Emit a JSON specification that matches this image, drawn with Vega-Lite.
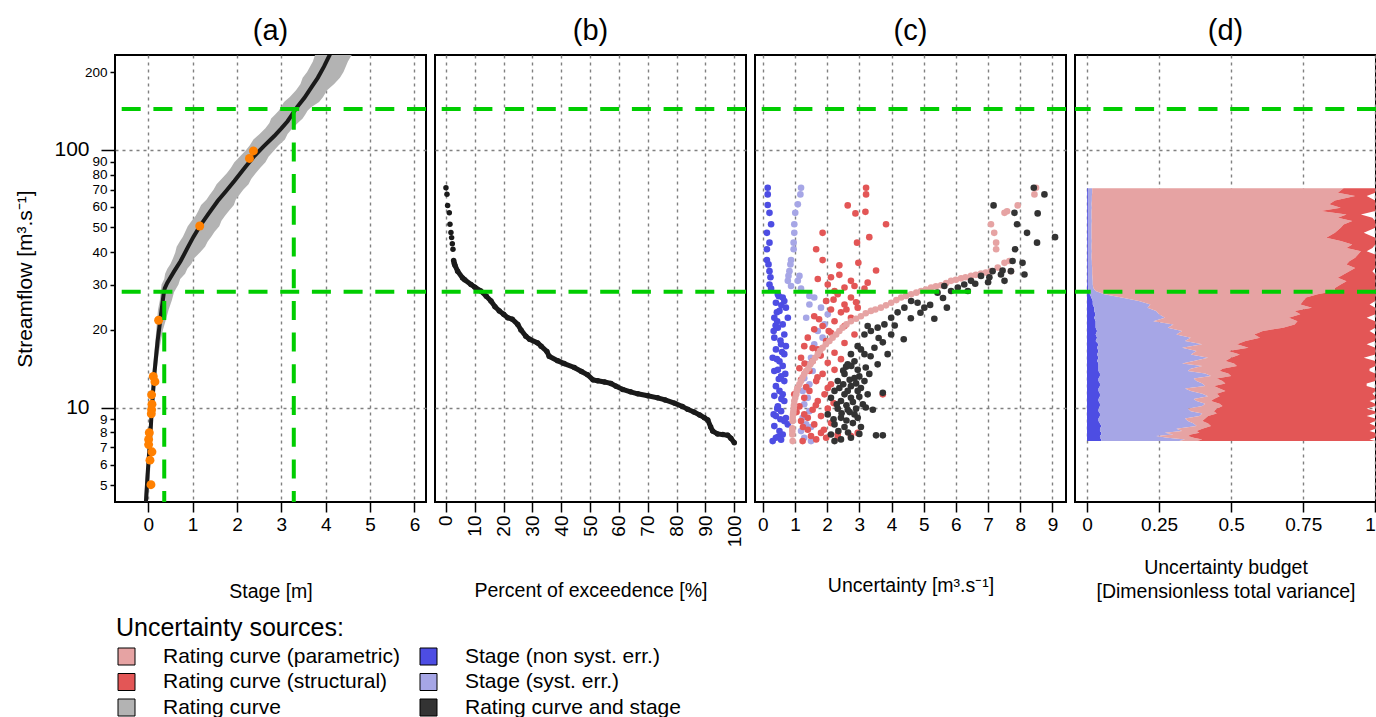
{
"$schema": "https://vega.github.io/schema/vega-lite/v6.json",
"padding": {"left": 13, "top": 16, "right": 0, "bottom": 0},
"config": {
  "font": "Liberation Sans",
  "view": {"stroke": "black", "strokeWidth": 2},
  "axis": {"domain": false, "tickColor": "black", "tickWidth": 1.5, "tickSize": 10, "labelColor": "black", "labelFontSize": 19, "labelPadding": 3, "titleColor": "black", "titleFontSize": 19.5, "titleFontWeight": "normal", "gridColor": "#808080", "gridDash": [3, 4], "gridWidth": 1.4, "gridOpacity": 1, "zindex": 1, "labelOverlap": false},
  "title": {"fontSize": 29, "fontWeight": "normal", "color": "black", "offset": 9}
},
"datasets": {
  "band": [
    {"q":4.0,"lo":-0.11,"hi":-0.02},{"q":5,"lo":-0.07,"hi":0.02},{"q":6,"lo":-0.04,"hi":0.05},{"q":7,"lo":0.0,"hi":0.07},{"q":8.5,"lo":0.03,"hi":0.10},{"q":10,"lo":0.05,"hi":0.12},{"q":12,"lo":0.08,"hi":0.16},{"q":14,"lo":0.10,"hi":0.19},{"q":16,"lo":0.13,"hi":0.23},{"q":18,"lo":0.16,"hi":0.28},{"q":20,"lo":0.18,"hi":0.33},{"q":22,"lo":0.20,"hi":0.40},{"q":24,"lo":0.22,"hi":0.46},{"q":26,"lo":0.26,"hi":0.53},{"q":28,"lo":0.28,"hi":0.58},{"q":30,"lo":0.30,"hi":0.68},{"q":31.5,"lo":0.36,"hi":0.72},{"q":33,"lo":0.38,"hi":0.83},{"q":34.5,"lo":0.43,"hi":0.88},{"q":36,"lo":0.50,"hi":0.97},{"q":38,"lo":0.56,"hi":1.04},{"q":40,"lo":0.61,"hi":1.17},{"q":42,"lo":0.64,"hi":1.28},{"q":44,"lo":0.71,"hi":1.34},{"q":46,"lo":0.78,"hi":1.42},{"q":48,"lo":0.83,"hi":1.49},{"q":50.5,"lo":0.89,"hi":1.60},{"q":53,"lo":0.98,"hi":1.65},{"q":55.5,"lo":1.07,"hi":1.73},{"q":58,"lo":1.13,"hi":1.82},{"q":61,"lo":1.19,"hi":1.93},{"q":64,"lo":1.31,"hi":1.97},{"q":67,"lo":1.39,"hi":2.06},{"q":70,"lo":1.47,"hi":2.14},{"q":73.5,"lo":1.54,"hi":2.26},{"q":77,"lo":1.65,"hi":2.32},{"q":81,"lo":1.77,"hi":2.42},{"q":85,"lo":1.86,"hi":2.52},{"q":89.5,"lo":1.94,"hi":2.64},{"q":94,"lo":2.06,"hi":2.71},{"q":99,"lo":2.19,"hi":2.83},{"q":104,"lo":2.29,"hi":2.94},{"q":109.5,"lo":2.37,"hi":3.08},{"q":115,"lo":2.51,"hi":3.14},{"q":121,"lo":2.64,"hi":3.25},{"q":127,"lo":2.73,"hi":3.37},{"q":132,"lo":2.77,"hi":3.48},{"q":137,"lo":2.86,"hi":3.54},{"q":141.5,"lo":2.94,"hi":3.59},{"q":146,"lo":2.99,"hi":3.67},{"q":153,"lo":3.06,"hi":3.85},{"q":160,"lo":3.19,"hi":3.94},{"q":170,"lo":3.33,"hi":4.03},{"q":180,"lo":3.43,"hi":4.19},{"q":190,"lo":3.48,"hi":4.32},{"q":200,"lo":3.58,"hi":4.40},{"q":220,"lo":3.71,"hi":4.50},{"q":245,"lo":3.80,"hi":4.66}
  ],
  "curve": [
    {"q":4.0,"h":-0.065},{"q":4.3,"h":-0.053},{"q":5.5,"h":-0.015},{"q":7.4,"h":0.038},{"q":10,"h":0.083},{"q":13.4,"h":0.135},{"q":18.1,"h":0.21},{"q":22.9,"h":0.286},{"q":27.5,"h":0.346},{"q":29,"h":0.37},{"q":30.5,"h":0.43},{"q":33.8,"h":0.586},{"q":37,"h":0.73},{"q":41.7,"h":0.887},{"q":46,"h":1.02},{"q":50.6,"h":1.165},{"q":56.5,"h":1.36},{"q":63.2,"h":1.564},{"q":69,"h":1.75},{"q":75.6,"h":1.94},{"q":85,"h":2.17},{"q":94.5,"h":2.39},{"q":103,"h":2.6},{"q":113,"h":2.84},{"q":121,"h":3.0},{"q":129,"h":3.14},{"q":136,"h":3.23},{"q":141,"h":3.29},{"q":146,"h":3.35},{"q":159,"h":3.52},{"q":175,"h":3.68},{"q":190,"h":3.82},{"q":210,"h":3.96},{"q":245,"h":4.15}
  ],
  "gaugings": [
    {"h":2.37,"q":98.9},{"h":2.28,"q":92.5},{"h":1.16,"q":50.6},{"h":0.233,"q":21.8},{"h":0.113,"q":13.2},{"h":0.15,"q":12.6},{"h":0.075,"q":11.2},{"h":0.083,"q":10.3},{"h":0.075,"q":9.8},{"h":0.068,"q":9.45},{"h":0.023,"q":7.98},{"h":0.008,"q":7.52},{"h":0.008,"q":7.18},{"h":0.083,"q":6.73},{"h":0.038,"q":6.25},{"h":0.06,"q":5.02}
  ],
  "thr": [{"q":28.1,"h":0.36,"qb":4.0},{"q":143.9,"h":3.28,"qb":4.0}],
  "pe": [
    {"p":0,"q":71.2},{"p":0.35,"q":67.2},{"p":0.58,"q":60.8},{"p":1.16,"q":57.0},{"p":1.39,"q":51.4},{"p":1.73,"q":47.7},{"p":1.96,"q":45.6},{"p":2.2,"q":43.2},{"p":2.43,"q":41.1},{"p":2.66,"q":37.2},{"p":2.9,"q":36.2},{"p":3.12,"q":35.6},{"p":4.05,"q":33.8},{"p":5.78,"q":31.8},{"p":6.5,"q":31.3},{"p":8.67,"q":30.0},{"p":10,"q":29.3},{"p":12.1,"q":28.3},{"p":14,"q":27.0},{"p":15.6,"q":25.9},{"p":17,"q":24.6},{"p":18.5,"q":23.7},{"p":20,"q":23.0},{"p":21.4,"q":22.3},{"p":23,"q":22.0},{"p":24.9,"q":21.0},{"p":26,"q":20.0},{"p":27.7,"q":18.9},{"p":29,"q":18.4},{"p":31.8,"q":17.8},{"p":33,"q":17.3},{"p":35,"q":16.5},{"p":35.8,"q":15.8},{"p":38.7,"q":15.2},{"p":41,"q":14.8},{"p":44.5,"q":14.3},{"p":47,"q":13.8},{"p":49.1,"q":13.4},{"p":51,"q":12.8},{"p":52.6,"q":12.7},{"p":55,"q":12.55},{"p":57.2,"q":12.4},{"p":59,"q":12.1},{"p":61.3,"q":11.75},{"p":64,"q":11.5},{"p":66.5,"q":11.3},{"p":70,"q":11.1},{"p":73.4,"q":10.9},{"p":76,"q":10.7},{"p":79.2,"q":10.4},{"p":82,"q":10.1},{"p":83.8,"q":9.84},{"p":86,"q":9.6},{"p":88,"q":9.35},{"p":89.6,"q":9.13},{"p":90.8,"q":8.95},{"p":91.8,"q":8.4},{"p":92.5,"q":8.1},{"p":94.2,"q":7.9},{"p":96,"q":7.85},{"p":97.7,"q":7.81},{"p":98.8,"q":7.6},{"p":100,"q":7.3}
  ],
  "unc": [
    {"s":"ns","u":0.155,"q":71.2},{"s":"ns","u":0.155,"q":67.1},{"s":"ns","u":0.155,"q":61.0},{"s":"ns","u":0.21,"q":56.9},{"s":"ns","u":0.26,"q":51.4},{"s":"ns","u":0.13,"q":47.6},{"s":"ns","u":0.21,"q":43.6},{"s":"ns","u":0.13,"q":41.1},{"s":"ns","u":0.13,"q":37.3},{"s":"ns","u":0.18,"q":35.9},{"s":"ns","u":0.21,"q":33.8},{"s":"ns","u":0.24,"q":32.0},{"s":"ns","u":0.21,"q":30.0},{"s":"ns","u":0.26,"q":28.9},
    {"s":"ns","u":0.47,"q":27.5},{"s":"ns","u":0.5,"q":27.0},{"s":"ns","u":0.62,"q":26.7},{"s":"ns","u":0.67,"q":25.9},{"s":"ns","u":0.41,"q":25.5},{"s":"ns","u":0.58,"q":24.9},{"s":"ns","u":0.72,"q":24.4},{"s":"ns","u":0.52,"q":23.7},{"s":"ns","u":0.44,"q":23.4},{"s":"ns","u":0.78,"q":22.3},{"s":"ns","u":0.36,"q":22.3},{"s":"ns","u":0.45,"q":21.6},{"s":"ns","u":0.62,"q":21.0},{"s":"ns","u":0.4,"q":20.8},{"s":"ns","u":0.47,"q":20.4},{"s":"ns","u":0.34,"q":19.8},{"s":"ns","u":0.67,"q":19.2},{"s":"ns","u":0.36,"q":18.66},{"s":"ns","u":0.55,"q":18.2},{"s":"ns","u":0.57,"q":17.6},{"s":"ns","u":0.72,"q":17.3},{"s":"ns","u":0.41,"q":16.8},{"s":"ns","u":0.6,"q":16.4},{"s":"ns","u":0.67,"q":16.1},{"s":"ns","u":0.31,"q":15.6},{"s":"ns","u":0.44,"q":15.4},{"s":"ns","u":0.52,"q":15.1},{"s":"ns","u":0.62,"q":14.5},{"s":"ns","u":0.47,"q":14.0},{"s":"ns","u":0.36,"q":13.85},{"s":"ns","u":0.7,"q":13.5},{"s":"ns","u":0.57,"q":13.2},{"s":"ns","u":0.5,"q":12.9},{"s":"ns","u":0.67,"q":12.66},{"s":"ns","u":0.41,"q":12.1},{"s":"ns","u":0.52,"q":11.6},{"s":"ns","u":0.62,"q":11.25},{"s":"ns","u":0.36,"q":11.1},{"s":"ns","u":0.58,"q":10.8},{"s":"ns","u":0.67,"q":10.6},{"s":"ns","u":0.47,"q":10.1},{"s":"ns","u":0.45,"q":9.9},{"s":"ns","u":0.57,"q":9.68},{"s":"ns","u":0.34,"q":9.4},{"s":"ns","u":0.41,"q":9.26},{"s":"ns","u":0.72,"q":9.1},{"s":"ns","u":0.55,"q":9.0},{"s":"ns","u":0.67,"q":8.86},{"s":"ns","u":0.78,"q":8.6},{"s":"ns","u":0.36,"q":8.47},{"s":"ns","u":0.52,"q":8.1},{"s":"ns","u":0.62,"q":7.86},{"s":"ns","u":0.48,"q":7.7},{"s":"ns","u":0.41,"q":7.63},{"s":"ns","u":0.57,"q":7.5},{"s":"ns","u":0.31,"q":7.41},
    {"s":"sy","u":1.19,"q":71.2},{"s":"sy","u":1.17,"q":67.1},{"s":"sy","u":1.09,"q":61.4},{"s":"sy","u":1.01,"q":56.9},{"s":"sy","u":0.98,"q":51.4},{"s":"sy","u":0.98,"q":47.6},{"s":"sy","u":0.96,"q":43.6},{"s":"sy","u":0.96,"q":41.1},{"s":"sy","u":0.88,"q":37.3},{"s":"sy","u":0.86,"q":35.9},{"s":"sy","u":0.83,"q":33.8},{"s":"sy","u":0.80,"q":32.4},{"s":"sy","u":1.14,"q":32.4},{"s":"sy","u":0.78,"q":31.0},{"s":"sy","u":1.09,"q":31.0},{"s":"sy","u":0.88,"q":29.6},{"s":"sy","u":1.19,"q":28.9},
    {"s":"sy","u":1.45,"q":27.1},{"s":"sy","u":1.60,"q":26.7},{"s":"sy","u":1.97,"q":25.9},{"s":"sy","u":1.45,"q":25.1},{"s":"sy","u":1.81,"q":24.4},{"s":"sy","u":2.02,"q":23.0},{"s":"sy","u":1.35,"q":22.3},{"s":"sy","u":1.92,"q":21.0},{"s":"sy","u":1.71,"q":19.8},{"s":"sy","u":1.86,"q":18.66},{"s":"sy","u":1.60,"q":17.6},{"s":"sy","u":1.76,"q":16.6},{"s":"sy","u":1.50,"q":15.6},{"s":"sy","u":1.40,"q":14.7},{"s":"sy","u":1.55,"q":13.85},{"s":"sy","u":1.29,"q":13.0},{"s":"sy","u":1.45,"q":12.3},{"s":"sy","u":1.24,"q":11.6},{"s":"sy","u":1.40,"q":10.9},{"s":"sy","u":1.29,"q":10.3},{"s":"sy","u":1.45,"q":9.68},{"s":"sy","u":1.24,"q":9.12},{"s":"sy","u":1.35,"q":8.6},{"s":"sy","u":1.50,"q":8.4},{"s":"sy","u":1.19,"q":8.1},{"s":"sy","u":1.29,"q":7.63},{"s":"sy","u":1.50,"q":7.41},
    {"s":"st","u":3.21,"q":71.2},{"s":"st","u":3.21,"q":67.1},{"s":"st","u":2.64,"q":60.8},{"s":"st","u":2.88,"q":56.6},{"s":"st","u":3.19,"q":57.4},{"s":"st","u":3.83,"q":51.4},{"s":"st","u":1.86,"q":47.6},{"s":"st","u":3.31,"q":45.8},{"s":"st","u":2.93,"q":43.6},{"s":"st","u":1.66,"q":41.1},{"s":"st","u":1.86,"q":37.3},{"s":"st","u":2.38,"q":35.6},{"s":"st","u":2.97,"q":36.4},{"s":"st","u":3.52,"q":34.0},{"s":"st","u":2.12,"q":32.0},{"s":"st","u":2.38,"q":32.7},{"s":"st","u":2.74,"q":31.0},{"s":"st","u":3.26,"q":30.5},{"s":"st","u":1.71,"q":31.5},{"s":"st","u":2.02,"q":30.0},{"s":"st","u":2.54,"q":29.2},{"s":"st","u":2.85,"q":29.6},{"s":"st","u":2.23,"q":28.3},{"s":"st","u":3.16,"q":28.9},
    {"s":"st","u":2.33,"q":27.5},{"s":"st","u":2.74,"q":26.7},{"s":"st","u":2.2,"q":26.2},{"s":"st","u":1.97,"q":25.9},{"s":"st","u":2.9,"q":25.6},{"s":"st","u":2.54,"q":25.1},{"s":"st","u":2.12,"q":24.0},{"s":"st","u":2.6,"q":24.0},{"s":"st","u":2.95,"q":24.4},{"s":"st","u":2.43,"q":23.4},{"s":"st","u":1.60,"q":22.6},{"s":"st","u":2.74,"q":22.3},{"s":"st","u":1.75,"q":22.0},{"s":"st","u":2.23,"q":21.6},{"s":"st","u":1.86,"q":20.7},{"s":"st","u":2.54,"q":20.7},{"s":"st","u":1.60,"q":20.1},{"s":"st","u":2.05,"q":19.8},{"s":"st","u":2.12,"q":19.5},{"s":"st","u":2.85,"q":19.2},{"s":"st","u":1.40,"q":18.66},{"s":"st","u":1.97,"q":18.1},{"s":"st","u":2.54,"q":17.8},{"s":"st","u":1.29,"q":17.3},{"s":"st","u":1.55,"q":17.0},{"s":"st","u":1.71,"q":16.8},{"s":"st","u":2.23,"q":16.3},{"s":"st","u":1.8,"q":15.9},{"s":"st","u":1.19,"q":15.6},{"s":"st","u":2.43,"q":15.4},{"s":"st","u":1.55,"q":15.1},{"s":"st","u":2.02,"q":14.9},{"s":"st","u":1.3,"q":14.8},{"s":"st","u":1.14,"q":14.2},{"s":"st","u":2.23,"q":14.0},{"s":"st","u":1.45,"q":13.85},{"s":"st","u":1.86,"q":13.5},{"s":"st","u":1.7,"q":13.1},{"s":"st","u":1.19,"q":12.8},{"s":"st","u":1.66,"q":12.66},{"s":"st","u":2.12,"q":12.3},{"s":"st","u":1.35,"q":12.0},{"s":"st","u":1.09,"q":11.9},{"s":"st","u":2.02,"q":11.9},{"s":"st","u":1.45,"q":11.6},{"s":"st","u":1.92,"q":11.25},{"s":"st","u":0.98,"q":11.25},{"s":"st","u":3.73,"q":11.25},{"s":"st","u":1.29,"q":10.9},{"s":"st","u":1.71,"q":10.6},{"s":"st","u":2.2,"q":10.4},{"s":"st","u":1.65,"q":10.2},{"s":"st","u":1.14,"q":10.1},{"s":"st","u":2.02,"q":9.9},{"s":"st","u":1.55,"q":9.8},{"s":"st","u":1.05,"q":9.6},{"s":"st","u":1.29,"q":9.4},{"s":"st","u":1.81,"q":9.26},{"s":"st","u":1.40,"q":9.12},{"s":"st","u":1.19,"q":8.86},{"s":"st","u":2.12,"q":8.7},{"s":"st","u":1.60,"q":8.6},{"s":"st","u":1.25,"q":8.4},{"s":"st","u":1.40,"q":8.2},{"s":"st","u":1.9,"q":8.2},{"s":"st","u":1.81,"q":7.97},{"s":"st","u":2.95,"q":7.97},{"s":"st","u":2.33,"q":7.86},{"s":"st","u":1.50,"q":7.75},{"s":"st","u":2.74,"q":7.75},{"s":"st","u":1.97,"q":7.63},{"s":"st","u":2.33,"q":7.63},{"s":"st","u":1.66,"q":7.52},{"s":"st","u":1.24,"q":7.41},
    {"s":"pa","u":0.93,"q":7.41},{"s":"pa","u":0.92,"q":7.86},{"s":"pa","u":0.92,"q":8.1},{"s":"pa","u":0.92,"q":8.3},{"s":"pa","u":0.93,"q":8.86},{"s":"pa","u":0.93,"q":9.1},{"s":"pa","u":0.94,"q":9.4},{"s":"pa","u":0.95,"q":9.6},{"s":"pa","u":0.96,"q":9.9},{"s":"pa","u":0.97,"q":10.2},{"s":"pa","u":0.98,"q":10.6},{"s":"pa","u":1.01,"q":10.9},{"s":"pa","u":1.04,"q":11.25},{"s":"pa","u":1.06,"q":11.6},{"s":"pa","u":1.09,"q":11.9},{"s":"pa","u":1.14,"q":12.3},{"s":"pa","u":1.19,"q":12.66},{"s":"pa","u":1.24,"q":13.1},{"s":"pa","u":1.29,"q":13.5},{"s":"pa","u":1.35,"q":13.85},{"s":"pa","u":1.42,"q":14.2},{"s":"pa","u":1.48,"q":14.7},{"s":"pa","u":1.55,"q":15.1},{"s":"pa","u":1.63,"q":15.6},{"s":"pa","u":1.71,"q":16.1},{"s":"pa","u":1.78,"q":16.6},{"s":"pa","u":1.86,"q":17.06},{"s":"pa","u":1.96,"q":17.6},{"s":"pa","u":2.07,"q":18.1},{"s":"pa","u":2.17,"q":18.66},{"s":"pa","u":2.28,"q":19.2},{"s":"pa","u":2.38,"q":19.8},{"s":"pa","u":2.48,"q":20.4},{"s":"pa","u":2.6,"q":21.0},{"s":"pa","u":2.74,"q":21.6},{"s":"pa","u":2.9,"q":22.1},{"s":"pa","u":3.05,"q":22.6},{"s":"pa","u":3.2,"q":23.2},{"s":"pa","u":3.36,"q":23.7},{"s":"pa","u":3.5,"q":24.0},{"s":"pa","u":3.67,"q":24.4},{"s":"pa","u":3.83,"q":24.9},{"s":"pa","u":3.99,"q":25.5},{"s":"pa","u":4.15,"q":26.1},{"s":"pa","u":4.30,"q":26.7},{"s":"pa","u":4.45,"q":27.1},{"s":"pa","u":4.61,"q":27.5},{"s":"pa","u":4.77,"q":27.9},{"s":"pa","u":4.92,"q":28.3},{"s":"pa","u":5.07,"q":28.7},{"s":"pa","u":5.23,"q":29.2},{"s":"pa","u":5.38,"q":29.5},{"s":"pa","u":5.54,"q":29.8},{"s":"pa","u":5.7,"q":30.4},{"s":"pa","u":5.85,"q":31.0},{"s":"pa","u":6.0,"q":31.3},{"s":"pa","u":6.16,"q":31.7},{"s":"pa","u":6.3,"q":32.0},{"s":"pa","u":6.47,"q":32.4},{"s":"pa","u":6.62,"q":32.7},{"s":"pa","u":6.78,"q":33.1},{"s":"pa","u":6.93,"q":33.4},{"s":"pa","u":7.09,"q":33.8},{"s":"pa","u":7.30,"q":34.9},{"s":"pa","u":7.51,"q":36.4},{"s":"pa","u":7.66,"q":37.0},{"s":"pa","u":7.71,"q":33.8},{"s":"pa","u":7.25,"q":41.1},{"s":"pa","u":7.25,"q":43.6},{"s":"pa","u":7.19,"q":47.6},{"s":"pa","u":7.09,"q":51.4},{"s":"pa","u":7.51,"q":56.9},{"s":"pa","u":7.59,"q":57.7},{"s":"pa","u":7.92,"q":60.8},{"s":"pa","u":8.44,"q":67.1},{"s":"pa","u":8.49,"q":71.2},
    {"s":"rs","u":8.42,"q":71.2},{"s":"rs","u":8.75,"q":67.1},{"s":"rs","u":7.17,"q":60.8},{"s":"rs","u":7.82,"q":56.9},{"s":"rs","u":8.54,"q":56.6},{"s":"rs","u":7.90,"q":51.4},{"s":"rs","u":8.21,"q":47.6},{"s":"rs","u":9.08,"q":45.8},{"s":"rs","u":8.52,"q":43.6},{"s":"rs","u":7.84,"q":41.1},{"s":"rs","u":7.76,"q":37.0},{"s":"rs","u":8.07,"q":36.4},{"s":"rs","u":7.71,"q":33.8},{"s":"rs","u":8.13,"q":32.8},{"s":"rs","u":7.45,"q":34.0},{"s":"rs","u":7.14,"q":33.8},{"s":"rs","u":7.4,"q":32.8},{"s":"rs","u":7.51,"q":31.0},{"s":"rs","u":7.04,"q":32.0},{"s":"rs","u":6.78,"q":32.4},{"s":"rs","u":7.0,"q":30.6},{"s":"rs","u":6.6,"q":30.2},{"s":"rs","u":6.47,"q":31.0},{"s":"rs","u":6.26,"q":30.0},{"s":"rs","u":6.06,"q":29.2},{"s":"rs","u":5.85,"q":28.3},{"s":"rs","u":6.37,"q":28.3},{"s":"rs","u":5.64,"q":29.6},{"s":"rs","u":5.43,"q":27.9},{"s":"rs","u":5.6,"q":26.6},{"s":"rs","u":5.2,"q":25.0},{"s":"rs","u":5.33,"q":22.1},{"s":"rs","u":5.72,"q":24.4},{"s":"rs","u":5.02,"q":24.4},{"s":"rs","u":4.9,"q":23.3},{"s":"rs","u":4.81,"q":25.5},{"s":"rs","u":4.61,"q":25.9},{"s":"rs","u":4.6,"q":22.2},{"s":"rs","u":4.40,"q":24.4},{"s":"rs","u":4.19,"q":23.4},{"s":"rs","u":3.99,"q":22.3},{"s":"rs","u":4.1,"q":20.8},{"s":"rs","u":3.78,"q":21.0},{"s":"rs","u":3.57,"q":20.4},{"s":"rs","u":3.36,"q":19.8},{"s":"rs","u":3.26,"q":20.7},{"s":"rs","u":3.16,"q":19.2},{"s":"rs","u":4.38,"q":18.4},{"s":"rs","u":3.99,"q":19.2},{"s":"rs","u":3.6,"q":18.6},{"s":"rs","u":3.73,"q":17.9},{"s":"rs","u":3.47,"q":17.06},{"s":"rs","u":3.05,"q":16.8},{"s":"rs","u":2.95,"q":17.3},{"s":"rs","u":2.74,"q":16.1},{"s":"rs","u":3.16,"q":16.1},{"s":"rs","u":3.35,"q":15.8},{"s":"rs","u":3.57,"q":14.7},{"s":"rs","u":3.88,"q":16.1},{"s":"rs","u":2.64,"q":14.7},{"s":"rs","u":2.75,"q":14.5},{"s":"rs","u":3.2,"q":14.3},{"s":"rs","u":2.59,"q":14.4},{"s":"rs","u":2.85,"q":15.1},{"s":"rs","u":2.95,"q":14.0},{"s":"rs","u":2.5,"q":13.9},{"s":"rs","u":2.54,"q":13.5},{"s":"rs","u":3.31,"q":13.5},{"s":"rs","u":3.0,"q":13.2},{"s":"rs","u":2.85,"q":13.0},{"s":"rs","u":2.7,"q":12.8},{"s":"rs","u":3.16,"q":12.66},{"s":"rs","u":2.33,"q":12.66},{"s":"rs","u":2.9,"q":12.4},{"s":"rs","u":2.5,"q":12.3},{"s":"rs","u":2.74,"q":12.1},{"s":"rs","u":2.38,"q":11.9},{"s":"rs","u":3.05,"q":11.9},{"s":"rs","u":2.23,"q":11.6},{"s":"rs","u":2.64,"q":11.6},{"s":"rs","u":2.95,"q":11.6},{"s":"rs","u":3.73,"q":11.4},{"s":"rs","u":2.54,"q":11.25},{"s":"rs","u":3.26,"q":11.25},{"s":"rs","u":3.0,"q":11.0},{"s":"rs","u":2.12,"q":10.9},{"s":"rs","u":2.74,"q":10.9},{"s":"rs","u":2.43,"q":10.6},{"s":"rs","u":2.8,"q":10.5},{"s":"rs","u":2.3,"q":10.3},{"s":"rs","u":3.11,"q":10.3},{"s":"rs","u":2.6,"q":10.2},{"s":"rs","u":3.2,"q":10.0},{"s":"rs","u":2.33,"q":9.9},{"s":"rs","u":2.9,"q":9.9},{"s":"rs","u":2.64,"q":9.8},{"s":"rs","u":3.42,"q":9.8},{"s":"rs","u":2.7,"q":9.6},{"s":"rs","u":2.45,"q":9.5},{"s":"rs","u":2.02,"q":9.4},{"s":"rs","u":2.85,"q":9.4},{"s":"rs","u":2.43,"q":9.12},{"s":"rs","u":2.95,"q":9.12},{"s":"rs","u":2.2,"q":9.0},{"s":"rs","u":2.6,"q":8.9},{"s":"rs","u":2.8,"q":8.7},{"s":"rs","u":2.23,"q":8.6},{"s":"rs","u":2.54,"q":8.4},{"s":"rs","u":3.05,"q":8.4},{"s":"rs","u":2.35,"q":8.1},{"s":"rs","u":2.65,"q":8.0},{"s":"rs","u":3.0,"q":7.9},{"s":"rs","u":2.12,"q":7.86},{"s":"rs","u":3.52,"q":7.8},{"s":"rs","u":3.73,"q":7.8},{"s":"rs","u":2.74,"q":7.63},{"s":"rs","u":2.43,"q":7.52},{"s":"rs","u":2.23,"q":7.41}
  ],
  "bud": [
    {"q":70.8,"c0":0,"c1":0.003,"c2":0.018,"c3":0.89,"c4":1.0},{"q":68.1,"c0":0,"c1":0.003,"c2":0.018,"c3":0.87,"c4":1.0},{"q":66.1,"c0":0,"c1":0.003,"c2":0.017,"c3":0.93,"c4":0.97},{"q":63.5,"c0":0,"c1":0.003,"c2":0.017,"c3":0.86,"c4":1.0},{"q":61.4,"c0":0,"c1":0.003,"c2":0.016,"c3":0.84,"c4":1.0},{"q":59.5,"c0":0,"c1":0.003,"c2":0.017,"c3":0.88,"c4":1.0},{"q":57.8,"c0":0,"c1":0.003,"c2":0.016,"c3":0.81,"c4":1.0},{"q":56.1,"c0":0,"c1":0.003,"c2":0.016,"c3":0.90,"c4":0.95},{"q":54.5,"c0":0,"c1":0.003,"c2":0.016,"c3":0.87,"c4":0.99},{"q":52.9,"c0":0,"c1":0.003,"c2":0.017,"c3":0.92,"c4":1.0},{"q":51.3,"c0":0,"c1":0.003,"c2":0.016,"c3":0.89,"c4":1.0},{"q":49.8,"c0":0,"c1":0.003,"c2":0.016,"c3":0.88,"c4":1.0},{"q":47.6,"c0":0,"c1":0.003,"c2":0.016,"c3":0.86,"c4":0.96},{"q":45.5,"c0":0,"c1":0.003,"c2":0.016,"c3":0.83,"c4":1.0},{"q":44.2,"c0":0,"c1":0.003,"c2":0.017,"c3":0.88,"c4":1.0},{"q":42.9,"c0":0,"c1":0.003,"c2":0.016,"c3":0.92,"c4":1.0},{"q":41.6,"c0":0,"c1":0.003,"c2":0.016,"c3":0.90,"c4":0.99},{"q":40.4,"c0":0,"c1":0.003,"c2":0.017,"c3":0.95,"c4":0.97},{"q":39.2,"c0":0,"c1":0.003,"c2":0.016,"c3":0.94,"c4":1.0},{"q":38.1,"c0":0,"c1":0.003,"c2":0.016,"c3":0.93,"c4":1.0},{"q":36.9,"c0":0,"c1":0.003,"c2":0.017,"c3":0.91,"c4":1.0},{"q":35.9,"c0":0,"c1":0.003,"c2":0.017,"c3":0.90,"c4":1.0},{"q":34.8,"c0":0,"c1":0.003,"c2":0.018,"c3":0.93,"c4":1.0},{"q":33.8,"c0":0,"c1":0.003,"c2":0.018,"c3":0.91,"c4":0.99},{"q":32.8,"c0":0,"c1":0.003,"c2":0.018,"c3":0.89,"c4":1.0},{"q":31.9,"c0":0,"c1":0.003,"c2":0.019,"c3":0.87,"c4":1.0},{"q":30.9,"c0":0,"c1":0.003,"c2":0.02,"c3":0.90,"c4":1.0},{"q":30.0,"c0":0,"c1":0.003,"c2":0.02,"c3":0.88,"c4":1.0},{"q":29.1,"c0":0,"c1":0.004,"c2":0.022,"c3":0.86,"c4":1.0},{"q":28.3,"c0":0,"c1":0.005,"c2":0.03,"c3":0.86,"c4":1.0},
    {"q":27.5,"c0":0,"c1":0.01,"c2":0.06,"c3":0.80,"c4":1.0},{"q":26.7,"c0":0,"c1":0.015,"c2":0.12,"c3":0.76,"c4":1.0},{"q":25.9,"c0":0,"c1":0.02,"c2":0.18,"c3":0.75,"c4":1.0},{"q":25.1,"c0":0,"c1":0.02,"c2":0.22,"c3":0.74,"c4":0.98},{"q":24.4,"c0":0,"c1":0.025,"c2":0.21,"c3":0.78,"c4":1.0},{"q":23.7,"c0":0,"c1":0.025,"c2":0.24,"c3":0.72,"c4":1.0},{"q":23.0,"c0":0,"c1":0.03,"c2":0.25,"c3":0.74,"c4":1.0},{"q":22.3,"c0":0,"c1":0.025,"c2":0.27,"c3":0.70,"c4":0.97},{"q":21.6,"c0":0,"c1":0.03,"c2":0.23,"c3":0.73,"c4":1.0},{"q":21.0,"c0":0,"c1":0.03,"c2":0.30,"c3":0.72,"c4":1.0},{"q":20.4,"c0":0,"c1":0.03,"c2":0.28,"c3":0.68,"c4":1.0},{"q":19.8,"c0":0,"c1":0.035,"c2":0.33,"c3":0.61,"c4":0.98},{"q":19.2,"c0":0,"c1":0.03,"c2":0.31,"c3":0.58,"c4":1.0},{"q":18.66,"c0":0,"c1":0.035,"c2":0.36,"c3":0.60,"c4":1.0},{"q":18.1,"c0":0,"c1":0.03,"c2":0.34,"c3":0.55,"c4":1.0},{"q":17.58,"c0":0,"c1":0.04,"c2":0.40,"c3":0.52,"c4":0.97},{"q":17.06,"c0":0,"c1":0.035,"c2":0.33,"c3":0.56,"c4":1.0},{"q":16.56,"c0":0,"c1":0.04,"c2":0.38,"c3":0.49,"c4":1.0},{"q":16.07,"c0":0,"c1":0.035,"c2":0.36,"c3":0.53,"c4":1.0},{"q":15.6,"c0":0,"c1":0.04,"c2":0.42,"c3":0.50,"c4":0.96},{"q":15.14,"c0":0,"c1":0.035,"c2":0.37,"c3":0.48,"c4":1.0},{"q":14.8,"c0":0,"c1":0.04,"c2":0.33,"c3":0.51,"c4":1.0},{"q":14.48,"c0":0,"c1":0.04,"c2":0.40,"c3":0.52,"c4":1.0},{"q":14.15,"c0":0,"c1":0.04,"c2":0.36,"c3":0.47,"c4":0.98},{"q":13.85,"c0":0,"c1":0.04,"c2":0.35,"c3":0.46,"c4":0.98},{"q":13.55,"c0":0,"c1":0.045,"c2":0.41,"c3":0.49,"c4":1.0},{"q":13.24,"c0":0,"c1":0.045,"c2":0.43,"c3":0.50,"c4":1.0},{"q":12.95,"c0":0,"c1":0.04,"c2":0.37,"c3":0.45,"c4":1.0},{"q":12.66,"c0":0,"c1":0.04,"c2":0.38,"c3":0.47,"c4":1.0},{"q":12.4,"c0":0,"c1":0.045,"c2":0.40,"c3":0.48,"c4":0.97},{"q":12.11,"c0":0,"c1":0.045,"c2":0.41,"c3":0.44,"c4":0.97},{"q":11.85,"c0":0,"c1":0.04,"c2":0.34,"c3":0.46,"c4":1.0},{"q":11.58,"c0":0,"c1":0.04,"c2":0.36,"c3":0.48,"c4":1.0},{"q":11.3,"c0":0,"c1":0.045,"c2":0.40,"c3":0.45,"c4":0.99},{"q":11.07,"c0":0,"c1":0.045,"c2":0.42,"c3":0.46,"c4":1.0},{"q":10.8,"c0":0,"c1":0.04,"c2":0.37,"c3":0.44,"c4":1.0},{"q":10.59,"c0":0,"c1":0.04,"c2":0.38,"c3":0.43,"c4":0.98},{"q":10.35,"c0":0,"c1":0.045,"c2":0.41,"c3":0.46,"c4":1.0},{"q":10.13,"c0":0,"c1":0.045,"c2":0.40,"c3":0.47,"c4":1.0},{"q":9.9,"c0":0,"c1":0.04,"c2":0.35,"c3":0.45,"c4":0.97},{"q":9.68,"c0":0,"c1":0.04,"c2":0.36,"c3":0.44,"c4":1.0},{"q":9.47,"c0":0,"c1":0.045,"c2":0.40,"c3":0.45,"c4":1.0},{"q":9.26,"c0":0,"c1":0.045,"c2":0.39,"c3":0.42,"c4":0.97},{"q":9.06,"c0":0,"c1":0.04,"c2":0.34,"c3":0.41,"c4":1.0},{"q":8.86,"c0":0,"c1":0.04,"c2":0.35,"c3":0.40,"c4":1.0},{"q":8.66,"c0":0,"c1":0.045,"c2":0.37,"c3":0.42,"c4":0.98},{"q":8.47,"c0":0,"c1":0.05,"c2":0.38,"c3":0.43,"c4":1.0},{"q":8.28,"c0":0,"c1":0.045,"c2":0.31,"c3":0.40,"c4":1.0},{"q":8.10,"c0":0,"c1":0.045,"c2":0.33,"c3":0.38,"c4":0.98},{"q":7.98,"c0":0,"c1":0.05,"c2":0.27,"c3":0.39,"c4":1.0},{"q":7.86,"c0":0,"c1":0.05,"c2":0.30,"c3":0.36,"c4":1.0},{"q":7.75,"c0":0,"c1":0.045,"c2":0.24,"c3":0.35,"c4":1.0},{"q":7.63,"c0":0,"c1":0.045,"c2":0.28,"c3":0.37,"c4":1.0},{"q":7.52,"c0":0,"c1":0.05,"c2":0.34,"c3":0.40,"c4":0.98},{"q":7.41,"c0":0,"c1":0.05,"c2":0.32,"c3":0.38,"c4":1.0}
  ]
},
"resolve": {"scale": {"color": "shared", "x": "independent", "y": "independent"}},
"spacing": 7,
"hconcat": [
  {
    "width": 311, "height": 447,
    "title": {"text": "(a)"},
    "layer": [
      {"data": {"name": "band"},
       "mark": {"type": "area", "orient": "horizontal", "clip": true, "opacity": 1},
       "encoding": {
         "y": {"field": "q", "type": "quantitative", "scale": {"type": "log", "domain": [4.3, 233], "nice": false},
               "axis": {"orient": "left", "values": [10, 100], "format": "~g", "tickSize": 14, "labelPadding": 12, "labelFontSize": 21, "grid": true, "title": "Streamflow [m³.s⁻¹]", "titlePadding": 18, "titleFontSize": 21}},
         "x": {"field": "lo", "type": "quantitative", "scale": {"domain": [-0.75, 6.26], "nice": false, "zero": false},
               "axis": {"values": [0, 1, 2, 3, 4, 5, 6], "title": "Stage [m]", "titleY": 95, "titleBaseline": "alphabetic"}},
         "x2": {"field": "hi"},
         "color": {"datum": "rc", "type": "nominal",
                   "scale": {"domain": ["pa", "st", "rc", "ns", "sy", "rs"], "range": ["#E6A3A3", "#E35656", "#B3B3B3", "#4D4DE3", "#A6A6E6", "#333333"]},
                   "legend": {"title": "Uncertainty sources:", "orient": "none", "legendX": 1, "legendY": 561, "columns": 2, "titleFontSize": 25, "titleFontWeight": "normal", "titleColor": "black", "titlePadding": 5, "titleLimit": 500, "labelFontSize": 21, "labelColor": "black", "labelOffset": 26, "labelLimit": 400, "symbolType": "square", "symbolSize": 289, "symbolStrokeColor": "black", "symbolStrokeWidth": 1, "symbolOpacity": 1, "rowPadding": 3.5, "columnPadding": 18,
                              "labelExpr": "datum.label == 'pa' ? 'Rating curve (parametric)' : datum.label == 'st' ? 'Rating curve (structural)' : datum.label == 'rc' ? 'Rating curve' : datum.label == 'ns' ? 'Stage (non syst. err.)' : datum.label == 'sy' ? 'Stage (syst. err.)' : 'Rating curve and stage'"}}
       }},
      {"data": {"name": "curve"},
       "mark": {"type": "line", "color": "#1a1a1a", "strokeWidth": 4, "clip": true},
       "encoding": {
         "y": {"field": "q", "type": "quantitative",
               "axis": {"orient": "left", "values": [5, 6, 7, 8, 9, 20, 30, 40, 50, 60, 70, 80, 90, 200], "format": "~g", "tickSize": 5, "labelPadding": 3, "labelFontSize": 13.5, "grid": false, "title": null}},
         "x": {"field": "h", "type": "quantitative"},
         "order": {"field": "q", "type": "quantitative"}
       }},
      {"data": {"name": "gaugings"},
       "mark": {"type": "circle", "color": "#FF8000", "size": 80, "opacity": 1, "clip": true},
       "encoding": {
         "y": {"field": "q", "type": "quantitative", "axis": null},
         "x": {"field": "h", "type": "quantitative"}
       }},
      {"data": {"name": "thr"},
       "mark": {"type": "rule", "color": "#00CD00", "strokeWidth": 4, "strokeDash": [19, 12.7], "clip": true},
       "encoding": {"y": {"field": "q", "type": "quantitative", "axis": null}}},
      {"data": {"name": "thr"},
       "mark": {"type": "rule", "color": "#00CD00", "strokeWidth": 4, "strokeDash": [19, 12.7], "clip": true},
       "encoding": {"x": {"field": "h", "type": "quantitative"}, "y": {"field": "qb", "type": "quantitative", "axis": null}, "y2": {"field": "q"}}}
    ],
    "resolve": {"axis": {"y": "independent"}}
  },
  {
    "width": 311, "height": 447,
    "title": {"text": "(b)"},
    "data": {"name": "pe"},
    "layer": [
      {"transform": [{"filter": "datum.q <= 37.5"}],
       "mark": {"type": "line", "color": "#1a1a1a", "strokeWidth": 5, "clip": true},
       "encoding": {
         "x": {"field": "p", "type": "quantitative", "scale": {"domain": [-3.8, 104.05], "nice": false, "zero": false},
               "axis": {"values": [0, 10, 20, 30, 40, 50, 60, 70, 80, 90, 100], "labelAngle": -90, "labelOverlap": false, "labelSeparation": 0, "title": "Percent of exceedence [%]", "titleY": 94, "titleBaseline": "alphabetic"}},
         "y": {"field": "q", "type": "quantitative", "scale": {"type": "log", "domain": [4.3, 233], "nice": false},
               "axis": {"values": [10, 100], "labels": false, "ticks": false, "domain": false, "title": null, "grid": true, "minExtent": 0, "maxExtent": 0}}
       }},
      {"mark": {"type": "circle", "color": "#1a1a1a", "size": 30, "opacity": 1, "clip": true},
       "encoding": {
         "x": {"field": "p", "type": "quantitative",
               "axis": {"values": [0, 10, 20, 30, 40, 50, 60, 70, 80, 90, 100], "labelAngle": -90, "labelOverlap": false, "labelSeparation": 0, "title": "Percent of exceedence [%]", "titleY": 94, "titleBaseline": "alphabetic"}},
         "y": {"field": "q", "type": "quantitative",
               "axis": {"values": [10, 100], "labels": false, "ticks": false, "domain": false, "title": null, "grid": true, "minExtent": 0, "maxExtent": 0}}}},
      {"data": {"name": "thr"},
       "mark": {"type": "rule", "color": "#00CD00", "strokeWidth": 4, "strokeDash": [19, 12.7], "clip": true},
       "encoding": {"y": {"field": "q", "type": "quantitative"}}}
    ]
  },
  {
    "width": 311, "height": 447,
    "title": {"text": "(c)"},
    "layer": [
      {"data": {"name": "unc"},
       "mark": {"type": "circle", "size": 44, "opacity": 1, "clip": true},
       "encoding": {
         "x": {"field": "u", "type": "quantitative", "scale": {"domain": [-0.24, 9.42], "nice": false, "zero": false},
               "axis": {"values": [0, 1, 2, 3, 4, 5, 6, 7, 8, 9], "title": "Uncertainty [m³.s⁻¹]", "titleY": 89, "titleBaseline": "alphabetic"}},
         "y": {"field": "q", "type": "quantitative", "scale": {"type": "log", "domain": [4.3, 233], "nice": false},
               "axis": {"values": [10, 100], "labels": false, "ticks": false, "domain": false, "title": null, "grid": true, "minExtent": 0, "maxExtent": 0}},
         "color": {"field": "s", "type": "nominal",
                   "scale": {"domain": ["pa", "st", "rc", "ns", "sy", "rs"], "range": ["#E6A3A3", "#E35656", "#B3B3B3", "#4D4DE3", "#A6A6E6", "#333333"]},
                   "legend": {"title": "Uncertainty sources:", "orient": "none", "legendX": 1, "legendY": 561, "columns": 2, "titleFontSize": 25, "titleFontWeight": "normal", "titleColor": "black", "titlePadding": 5, "titleLimit": 500, "labelFontSize": 21, "labelColor": "black", "labelOffset": 26, "labelLimit": 400, "symbolType": "square", "symbolSize": 289, "symbolStrokeColor": "black", "symbolStrokeWidth": 1, "symbolOpacity": 1, "rowPadding": 3.5, "columnPadding": 18,
                              "labelExpr": "datum.label == 'pa' ? 'Rating curve (parametric)' : datum.label == 'st' ? 'Rating curve (structural)' : datum.label == 'rc' ? 'Rating curve' : datum.label == 'ns' ? 'Stage (non syst. err.)' : datum.label == 'sy' ? 'Stage (syst. err.)' : 'Rating curve and stage'"}}
       }},
      {"data": {"name": "thr"},
       "mark": {"type": "rule", "color": "#00CD00", "strokeWidth": 4, "strokeDash": [19, 12.7], "clip": true},
       "encoding": {"y": {"field": "q", "type": "quantitative"}}}
    ]
  },
  {
    "width": 301, "height": 447,
    "title": {"text": "(d)"},
    "layer": [
      {"data": {"name": "bud"},
       "mark": {"type": "area", "orient": "horizontal", "clip": true, "opacity": 1},
       "encoding": {
         "y": {"field": "q", "type": "quantitative", "scale": {"type": "log", "domain": [4.3, 233], "nice": false},
               "axis": {"values": [10, 100], "labels": false, "ticks": false, "domain": false, "title": null, "grid": true, "minExtent": 0, "maxExtent": 0}},
         "x": {"field": "c0", "type": "quantitative", "stack": null, "scale": {"domain": [-0.0416, 1.0024], "nice": false, "zero": false},
               "axis": {"values": [0, 0.25, 0.5, 0.75, 1], "labelExpr": "format(datum.value, '~g')", "labelAlign": {"condition": {"test": "datum.value == 1", "value": "right"}, "value": "center"}, "title": ["Uncertainty budget", "[Dimensionless total variance]"], "titleY": 71, "titleBaseline": "alphabetic", "titleLineHeight": 24}},
         "x2": {"field": "c1"},
         "color": {"datum": "ns", "type": "nominal"}
       }},
      {"data": {"name": "bud"},
       "mark": {"type": "area", "orient": "horizontal", "clip": true, "opacity": 1},
       "encoding": {
         "y": {"field": "q", "type": "quantitative"},
         "x": {"field": "c1", "type": "quantitative", "stack": null},
         "x2": {"field": "c2"},
         "color": {"datum": "sy", "type": "nominal"}
       }},
      {"data": {"name": "bud"},
       "mark": {"type": "area", "orient": "horizontal", "clip": true, "opacity": 1},
       "encoding": {
         "y": {"field": "q", "type": "quantitative"},
         "x": {"field": "c2", "type": "quantitative", "stack": null},
         "x2": {"field": "c3"},
         "color": {"datum": "pa", "type": "nominal"}
       }},
      {"data": {"name": "bud"},
       "mark": {"type": "area", "orient": "horizontal", "clip": true, "opacity": 1},
       "encoding": {
         "y": {"field": "q", "type": "quantitative"},
         "x": {"field": "c3", "type": "quantitative", "stack": null},
         "x2": {"field": "c4"},
         "color": {"datum": "st", "type": "nominal"}
       }},
      {"data": {"name": "thr"},
       "mark": {"type": "rule", "color": "#00CD00", "strokeWidth": 4, "strokeDash": [19, 12.7], "clip": true},
       "encoding": {"y": {"field": "q", "type": "quantitative"}}}
    ]
  }
]
}
